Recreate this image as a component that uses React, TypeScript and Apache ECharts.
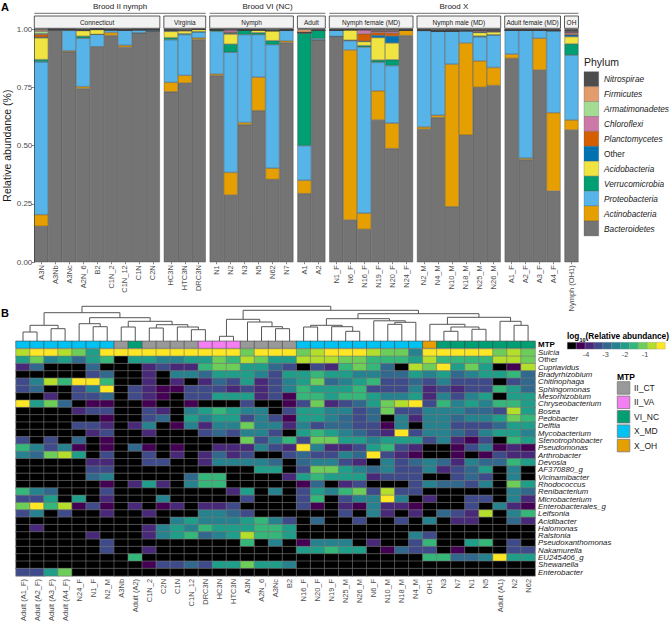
import React, { useEffect, useRef } from 'react';
import * as echarts from 'echarts';

// ---------------- Panel A data ----------------
const barSamples = ['A3N','A3Nb','A3Nc','A2N_6','B2','C1N_2','C1N_12','C1N','C2N','HC3N','HTC3N','DRC3N','N1','N2','N3','N5','N62','N7','A1','A2','N1_F','N6_F','N16_F','N19_F','N20_F','N24_F','N2_M','N4_M','N10_M','N18_M','N25_M','N26_M','A1_F','A2_F','A3_F','A4_F','Nymph (OH1)'];
const facetNames = ['Connecticut','Virginia','Nymph','Adult','Nymph female (MD)','Nymph male (MD)','Adult female (MD)','OH'];
const facetSizes = [9,3,6,2,6,6,4,1];
const broodNames = ['Brood II nymph','Brood VI (NC)','Brood X'];
const broodFacetCounts = [2,2,4];

const phyla = ['Bacteroidetes','Actinobacteria','Proteobacteria','Verrucomicrobia','Acidobacteria','Other','Planctomycetes','Chloroflexi','Armatimonadetes','Firmicutes','Nitrospirae'];
const phylumColors = ['#747474','#E69F00','#56B4E9','#009E73','#F0E442','#0072B2','#D55E00','#CC79A7','#A5DC93','#E39D6C','#4D4D4D'];

const bacteroidetes = [0.154,0.995,0.903,0.745,0.922,0.972,0.922,0.983,0.99,0.731,0.768,0.955,0.8,0.288,0.59,0.65,0.355,0.942,0.294,0.953,0.968,0.181,0.141,0.61,0.487,0.972,0.57,0.62,0.238,0.545,0.75,0.758,0.874,0.44,0.824,0.305,0.567];
const actinobacteria = [0.05,0,0.004,0.008,0.002,0.013,0.008,0,0,0.04,0.033,0.007,0.007,0.097,0.009,0.143,0.048,0.007,0.057,0,0,0.729,0.069,0.125,0.109,0.023,0.01,0.01,0.611,0.395,0.113,0.077,0.018,0.006,0.136,0.336,0.043];
const proteobacteria = [0.655,0.003,0.087,0.207,0.053,0.01,0.065,0.013,0.006,0.183,0.175,0.026,0.183,0.515,0.377,0.183,0.53,0.045,0.149,0.006,0.027,0.04,0.712,0.122,0.247,0,0.413,0.36,0.142,0.053,0.103,0.14,0.103,0.549,0.035,0.352,0.278];
const verrucomicrobia = [0.01,0,0.002,0.009,0,0,0,0,0,0.009,0.004,0,0.007,0.035,0.02,0.008,0.017,0.002,0.482,0.035,0,0.002,0.007,0.01,0.025,0,0.002,0,0,0,0.004,0,0,0,0,0,0.048];
const acidobacteria = [0.093,0,0,0.024,0.02,0,0,0,0,0.027,0.012,0.01,0,0.043,0,0.012,0.043,0,0,0,0,0.045,0.017,0.096,0.072,0,0,0,0,0,0.015,0.012,0,0,0,0,0.031];
const otherPhyla = [0.003,0,0.002,0.003,0.002,0.003,0.002,0.002,0.002,0.003,0.002,0,0,0.004,0,0,0,0,0.004,0,0,0,0.002,0.01,0.03,0,0,0.003,0,0,0.003,0.003,0,0,0,0,0.008];
const planctomycetes = [0.012,0,0,0,0,0,0,0,0,0.002,0,0,0,0.004,0,0,0,0,0,0,0,0,0.031,0.012,0.013,0,0,0,0,0,0,0,0,0,0,0,0.006];
const chloroflexi = [0.003,0,0,0,0,0,0,0,0,0,0,0,0,0.01,0,0,0,0,0,0,0,0,0.018,0.006,0.008,0,0,0,0.004,0,0.006,0.005,0,0,0,0.002,0.006];
const armatimonadetes = [0.01,0,0,0,0,0,0,0,0,0,0,0,0,0,0,0,0,0,0,0,0,0,0,0,0,0,0,0,0,0,0,0,0,0,0,0,0];
const firmicutes = [0.006,0,0,0,0,0,0,0,0,0,0.003,0,0,0.002,0,0,0,0,0.012,0.002,0,0,0,0.004,0.004,0,0,0,0,0,0,0,0,0,0,0,0.003];
const nitrospirae = [0.004,0.002,0.002,0.004,0.001,0.002,0.003,0.002,0.002,0.005,0.003,0.002,0.003,0.002,0.004,0.004,0.007,0.004,0.002,0.004,0.005,0.003,0.003,0.005,0.005,0.005,0.005,0.007,0.005,0.007,0.006,0.005,0.005,0.005,0.005,0.005,0.01];
const phylumValues = [bacteroidetes,actinobacteria,proteobacteria,verrucomicrobia,acidobacteria,otherPhyla,planctomycetes,chloroflexi,armatimonadetes,firmicutes,nitrospirae];
const yTicks = [0, 0.25, 0.5, 0.75, 1];

// ---------------- Panel B data ----------------
const heatSamples = ['Adult (A1_F)','Adult (A2_F)','Adult (A3_F)','Adult (A4_F)','N24_F','N1_F','N2_M','A3Nb','Adult (A2)','C1N_2','C2N','C1N','C1N_12','DRC3N','HC3N','HTC3N','A3N','A2N_6','A3Nc','B2','N16_F','N20_F','N19_F','N25_M','N26_M','N6_F','N10_M','N18_M','N4_M','OH1','N3','N7','N1','N5','Adult (A1)','N2','N62'];
const mtpGroups = ['II_CT','II_VA','VI_NC','X_MD','X_OH'];
const mtpColors = ['#999999','#F57FF2','#009E73','#00C2F3','#E69F00'];
const sampleMtp = [3,3,3,3,3,3,3,0,2,0,0,0,0,1,1,1,0,0,0,0,3,3,3,3,3,3,3,3,3,4,2,2,2,2,2,2,2];
const genera = ['Sulcia','Other','Cupriavidus','Bradyrhizobium','Chitinophaga','Sphingomonas','Mesorhizobium','Chryseobacterium','Bosea','Pedobacter','Delftia','Mycobacterium','Stenotrophobacter','Pseudomonas','Arthrobacter','Devosia','AF370880_g','Vicinamibacter','Rhodococcus','Renibacterium','Microbacterium','Enterobacterales_g','Leifsonia','Acidibacter','Halomonas','Ralstonia','Pseudoxanthomonas','Nakamurella','EU245406_g','Shewanella','Enterobacter'];
// colour class of log10(relative abundance): 0 = absent (black), 1 = lowest ... 10 = highest
const heatClassColors = ['#000000','#440154','#482878','#3E4A89','#31688E','#26828E','#1F9E89','#35B779','#6DCD59','#B4DE2C','#FDE725'];
const heatLegendTicks = ['-4','-3','-2','-1'];
const log10Class = [
  [9,10,10,9,8,6,10,10,10,10,10,10,10,10,10,10,8,10,10,10,8,9,10, 10,10,9,8,8,5,10,10,10,10,10,8,9,8],
  [6,8,5,6,4,6,7,0,6,6,5,5,6,6,8,7,9,8,6,6,9,9,9, 8,8,7,7,7,6,9,7,7,7,7,9,9,8],
  [2,4,0,0,0,4,0,0,0,2,3,2,2,7,8,8,6,6,4,3,0,3,2, 7,8,7,4,0,9,8,10,6,8,6,0,1,9],
  [0,0,0,0,0,3,4,0,0,2,0,5,5,4,6,6,6,5,3,6,6,7,6, 6,5,5,4,4,6,5,6,4,5,6,6,7,4],
  [3,5,9,7,10,10,7,0,0,2,0,2,0,2,4,3,6,2,3,5,6,8,4, 5,6,7,3,3,4,3,5,3,3,3,0,3,4],
  [3,4,0,0,3,5,10,0,3,2,1,1,3,3,3,2,3,2,3,5,7,6,6, 6,7,3,3,3,5,2,3,2,3,3,7,6,4],
  [0,0,2,0,3,3,4,0,3,2,1,0,3,3,6,6,6,2,3,1,7,7,6, 7,7,6,5,5,6,2,5,3,5,6,0,6,6],
  [10,6,8,4,0,1,1,0,0,1,0,0,1,0,0,0,3,0,0,1,3,8,2, 3,4,6,8,9,10,3,7,5,6,5,7,7,6],
  [0,0,0,0,2,3,3,0,0,3,2,0,5,6,7,6,5,5,0,3,6,6,5, 5,3,4,8,3,3,5,5,5,4,4,3,9,6],
  [0,0,0,0,0,0,1,0,0,3,4,0,6,5,6,6,3,5,3,1,6,6,5, 4,3,4,0,5,2,5,5,4,5,5,6,8,7],
  [0,0,0,0,3,3,2,0,2,5,0,1,5,2,5,5,8,5,5,2,5,3,4, 4,3,3,1,5,0,5,5,3,3,3,4,6,6],
  [0,0,0,0,0,2,3,0,0,2,0,0,0,3,4,3,5,5,3,0,6,7,6, 5,4,3,2,10,3,5,5,4,3,5,6,6,5],
  [3,0,3,0,4,0,1,0,0,0,0,0,0,0,0,0,8,3,5,7,3,8,8, 6,6,5,6,6,6,3,5,2,1,3,0,7,6],
  [7,5,3,5,1,0,1,0,4,1,0,1,0,0,2,2,2,5,3,2,10,5,2, 2,3,6,7,3,2,0,0,1,3,5,1,2,1],
  [5,4,8,9,6,0,3,0,0,3,0,2,0,2,4,2,3,0,0,3,4,3,3, 5,4,10,3,2,1,0,0,1,0,1,3,2,2],
  [0,0,0,0,0,2,2,0,0,3,3,0,0,2,5,5,5,5,4,0,4,5,5, 3,2,0,5,3,4,5,4,2,5,4,4,7,6],
  [0,0,0,0,0,3,3,0,0,0,0,0,0,0,0,0,0,6,6,0,3,8,8, 6,5,4,5,3,3,5,2,3,4,6,0,5,0],
  [0,0,0,0,0,4,5,0,0,0,0,0,4,7,7,0,0,0,0,2,6,7,6, 6,6,2,3,3,3,0,0,3,4,3,0,5,0],
  [0,0,0,0,0,0,1,0,2,6,2,0,5,7,7,0,0,0,0,0,1,4,0, 2,3,0,0,0,3,5,4,4,3,5,0,8,6],
  [7,5,4,0,0,0,3,0,0,0,0,0,0,0,0,2,6,0,5,0,3,6,5, 7,8,3,9,3,3,0,0,0,0,0,0,5,4],
  [3,3,6,0,6,0,2,0,0,0,5,0,0,0,0,0,3,0,0,0,3,7,0, 3,5,5,10,5,0,2,0,0,3,3,0,5,2],
  [8,10,7,9,1,3,1,0,2,0,1,2,0,2,2,3,0,0,0,0,3,1,0, 2,1,5,2,2,1,0,0,0,3,0,5,2,1],
  [3,5,0,3,0,0,2,0,0,2,0,0,0,5,5,4,3,0,0,0,0,0,0, 3,0,5,2,0,2,0,4,3,2,9,0,5,7],
  [0,0,0,0,0,0,0,0,0,0,0,5,6,5,5,5,6,7,5,3,0,4,0, 0,3,0,0,3,0,5,0,2,2,0,0,4,2],
  [0,2,0,0,0,0,0,0,0,2,5,6,5,7,6,6,6,7,7,6,0,0,0, 0,0,0,0,0,0,0,0,0,0,0,0,0,0],
  [0,0,0,0,0,2,0,0,0,2,5,6,7,4,5,6,9,7,7,6,0,0,0, 0,0,0,0,0,5,3,0,0,0,0,0,0,0],
  [0,0,0,0,0,0,3,0,0,0,0,0,0,0,0,0,7,0,5,0,1,5,5, 5,0,2,0,0,3,7,0,0,6,7,0,3,0],
  [0,0,0,0,0,0,3,0,0,2,0,0,0,0,0,0,0,0,0,0,6,6,7, 6,6,0,1,4,3,3,0,1,0,0,0,3,3],
  [0,0,0,0,0,0,0,0,7,0,0,0,0,0,0,0,0,0,0,0,0,0,0, 0,0,0,0,0,0,7,7,4,4,5,10,6,6],
  [0,0,0,0,0,0,0,0,0,1,3,3,4,3,6,6,8,6,6,5,0,0,0, 0,0,0,0,0,0,0,0,0,0,0,0,0,0],
  [3,3,6,8,0,0,0,0,0,0,0,0,0,0,0,0,0,0,0,0,0,0,0, 0,0,0,0,0,0,0,0,0,0,0,0,0,0],
];
// dendrogram merges: [left, right, height]; 'cK' = leaf column K, 'nK' = K-th merge (1-based)
const dendroMerges: [string, string, number][] = [
  ['c0','c1',9.3], ['c2','c3',12.6], ['n1','n2',16], ['c5','c6',14.6], ['c4','n4',17.6],
  ['c7','c8',14.3], ['c9','c10',13.3], ['c12','c13',11.6], ['c11','n8',14.3], ['n7','n9',16.6],
  ['n6','n10',20], ['n5','n11',23.6], ['n3','n12',28.6], ['c14','c15',5], ['c18','c19',12.6],
  ['c17','n15',14.6], ['c16','n16',19.3], ['n14','n17',22], ['c20','c21',14.3], ['c23','c24',10],
  ['c22','n20',14.6], ['n19','n21',16], ['c26','c27',17], ['n23','c28',19], ['c25','n24',20.5],
  ['n22','n25',22.6], ['c30','c31',10], ['c32','c33',12], ['n27','n28',14.3], ['c29','n29',17],
  ['c35','c36',16], ['c34','n31',20], ['n30','n32',24], ['n26','n33',27.6], ['n18','n34',31],
  ['n13','n35',35],
];

const FONT = 'Liberation Sans, Arial, sans-serif';

function buildOption() {
  const grids: any[] = [];
  const xAxes: any[] = [];
  const yAxes: any[] = [];
  const series: any[] = [];
  const g: any[] = [];

  // ---- Panel A ----
  const SLOT = 13.95, GAP = 4, LEFT = 34.3, TOP = 29, H = 233.2;
  let start = 0;
  let x = LEFT;
  const facetX: number[][] = [];
  facetSizes.forEach((n, f) => {
    const w = n * SLOT;
    facetX.push([x, x + w]);
    grids.push({ left: x, top: TOP, width: w, height: H });
    xAxes.push({
      type: 'category', gridIndex: f, data: barSamples.slice(start, start + n),
      axisLine: { show: false },
      axisTick: { show: true, length: 2, alignWithLabel: true, lineStyle: { color: '#333', width: 0.6 } },
      axisLabel: { rotate: 90, interval: 0, fontSize: 7.5, color: '#4d4d4d', margin: 3, fontFamily: FONT },
    });
    yAxes.push({
      type: 'value', gridIndex: f, min: 0, max: 1, interval: 0.25,
      splitLine: { show: false },
      axisLine: { show: f === 0, lineStyle: { color: '#000', width: 0.8 } },
      axisTick: { show: f === 0, length: 2.5, lineStyle: { color: '#333', width: 0.6 } },
      axisLabel: { show: f === 0, fontSize: 8, color: '#4d4d4d', margin: 2, fontFamily: FONT,
        formatter: (v: number) => (yTicks.includes(v) ? v.toFixed(2) : '') },
      name: f === 0 ? 'Relative abundance (%)' : '', nameLocation: 'middle', nameGap: 20,
      nameTextStyle: { fontSize: 10.5, color: '#1a1a1a', fontFamily: FONT },
    });
    phylumValues.forEach((arr, p) => {
      series.push({
        type: 'bar', name: phyla[p], xAxisIndex: f, yAxisIndex: f, stack: 's' + f,
        data: arr.slice(start, start + n), barWidth: '100%', silent: true,
        itemStyle: { color: phylumColors[p], borderColor: '#3f3f3f', borderWidth: 0.4 },
      });
    });
    g.push({ type: 'rect', shape: { x: x, y: 16, width: w, height: 12.3 }, style: { fill: '#f2f2f2', stroke: '#333', lineWidth: 0.8 } });
    g.push({ type: 'text', x: x + w / 2, y: 22.3, style: { text: facetNames[f], fontSize: 6.5, fill: '#1a1a1a', align: 'center', verticalAlign: 'middle', fontFamily: FONT } });
    start += n;
    x += w + GAP;
  });
  let fi = 0;
  broodNames.forEach((b, i) => {
    const x0 = facetX[fi][0];
    const x1 = facetX[fi + broodFacetCounts[i] - 1][1];
    fi += broodFacetCounts[i];
    g.push({ type: 'line', shape: { x1: x0, y1: 13.3, x2: x1, y2: 13.3 }, style: { stroke: '#8c8c8c', lineWidth: 1.3 } });
    g.push({ type: 'text', x: (x0 + x1) / 2, y: 6, style: { text: b, fontSize: 8, fill: '#1a1a1a', align: 'center', verticalAlign: 'middle', fontFamily: FONT } });
  });
  // Phylum legend
  g.push({ type: 'text', x: 584, y: 62, style: { text: 'Phylum', fontSize: 10.5, fill: '#1a1a1a', align: 'left', verticalAlign: 'middle', fontFamily: FONT } });
  const legendOrder = phyla.map((_, i) => phyla.length - 1 - i);
  legendOrder.forEach((p, i) => {
    const y = 71.7 + 14.93 * i;
    g.push({ type: 'rect', shape: { x: 584, y, width: 14.7, height: 14.93 }, style: { fill: phylumColors[p], stroke: '#555', lineWidth: 0.3 } });
    g.push({ type: 'text', x: 604, y: y + 7.5, style: { text: phyla[p], fontSize: 8.3, fontStyle: phyla[p] === 'Other' ? 'normal' : 'italic', fill: '#1a1a1a', align: 'left', verticalAlign: 'middle', fontFamily: FONT } });
  });
  g.push({ type: 'text', x: 1, y: 1, style: { text: 'A', fontSize: 11, fontWeight: 'bold', fill: '#000', align: 'left', verticalAlign: 'top', fontFamily: FONT } });
  g.push({ type: 'text', x: 1, y: 307, style: { text: 'B', fontSize: 11, fontWeight: 'bold', fill: '#000', align: 'left', verticalAlign: 'top', fontFamily: FONT } });

  // ---- Panel B ----
  const HL = 16, HW = 519.1;
  const nA = grids.length;
  // dendrogram grid
  grids.push({ left: HL, top: 306, width: HW, height: 35.3 });
  xAxes.push({ type: 'value', gridIndex: nA, min: 0, max: heatSamples.length, show: false });
  yAxes.push({ type: 'value', gridIndex: nA, min: 0, max: 35.3, show: false });
  const pos: Record<string, number> = {};
  const ht: Record<string, number> = {};
  heatSamples.forEach((_, c) => { pos['c' + c] = c + 0.5; ht['c' + c] = 0; });
  const dendroData: number[][] = [];
  dendroMerges.forEach(([a, b, h], i) => {
    const id = 'n' + (i + 1);
    dendroData.push([pos[a], ht[a], pos[b], ht[b], h]);
    pos[id] = (pos[a] + pos[b]) / 2;
    ht[id] = h;
  });
  series.push({
    type: 'custom', xAxisIndex: nA, yAxisIndex: nA, silent: true, data: dendroData,
    encode: { x: [0, 2], y: [1, 3, 4] },
    renderItem: (params: any, api: any) => {
      const p1 = api.coord([api.value(0), api.value(1)]);
      const p2 = api.coord([api.value(0), api.value(4)]);
      const p3 = api.coord([api.value(2), api.value(4)]);
      const p4 = api.coord([api.value(2), api.value(3)]);
      return { type: 'polyline', shape: { points: [p1, p2, p3, p4] }, style: { stroke: '#555', lineWidth: 1, fill: 'none' } };
    },
  });
  // MTP bar
  grids.push({ left: HL, top: 341.3, width: HW, height: 6.8 });
  xAxes.push({ type: 'category', gridIndex: nA + 1, data: heatSamples, show: false });
  yAxes.push({ type: 'category', gridIndex: nA + 1, data: ['MTP'], show: false });
  series.push({
    type: 'heatmap', xAxisIndex: nA + 1, yAxisIndex: nA + 1, silent: true,
    data: sampleMtp.map((m, c) => [c, 0, m]),
    itemStyle: { borderColor: '#444', borderWidth: 0.6 }, emphasis: { disabled: true },
  });
  // heatmap
  grids.push({ left: HL, top: 349, width: HW, height: 227.3 });
  xAxes.push({
    type: 'category', gridIndex: nA + 2, data: heatSamples,
    axisLine: { show: false }, axisTick: { show: false },
    axisLabel: { rotate: 90, interval: 0, fontSize: 7.5, color: '#4d4d4d', margin: 3, fontFamily: FONT },
  });
  yAxes.push({
    type: 'category', gridIndex: nA + 2, data: genera, inverse: true, position: 'right',
    axisLine: { show: false }, axisTick: { show: false },
    axisLabel: {
      interval: 0, margin: 3, fontSize: 7.8, lineHeight: 7.3, color: '#1a1a1a', fontFamily: FONT,
      formatter: (v: string) => (v === 'Other' ? '{n|' + v + '}' : '{i|' + v + '}'),
      rich: {
        n: { fontStyle: 'normal', fontSize: 7.8, lineHeight: 7.3, color: '#1a1a1a', fontFamily: FONT },
        i: { fontStyle: 'italic', fontSize: 7.8, lineHeight: 7.3, color: '#1a1a1a', fontFamily: FONT },
      },
    },
  });
  const heatData: number[][] = [];
  log10Class.forEach((row, r) => row.forEach((v, c) => heatData.push([c, r, v])));
  series.push({
    type: 'heatmap', xAxisIndex: nA + 2, yAxisIndex: nA + 2, silent: true, data: heatData,
    itemStyle: { borderColor: '#777', borderWidth: 0.6 }, emphasis: { disabled: true },
  });
  const mtpSeries = series.length - 2;
  const heatSeries = series.length - 1;

  g.push({ type: 'text', x: 538, y: 344.7, style: { text: 'MTP', fontSize: 8, fontWeight: 'bold', fill: '#000', align: 'left', verticalAlign: 'middle', fontFamily: FONT } });
  // heat legend
  g.push({ type: 'text', x: 567, y: 334, style: {
    text: '{a|log}{s|10}{a|(Relative abundance)}', align: 'left', verticalAlign: 'middle',
    rich: { a: { fontSize: 8.3, fontWeight: 'bold', fill: '#000', fontFamily: FONT, lineHeight: 11, verticalAlign: 'bottom' },
            s: { fontSize: 5.5, fontWeight: 'bold', fill: '#000', fontFamily: FONT, lineHeight: 11, verticalAlign: 'bottom', padding: [0, 0, -3, 0] } } } });
  heatClassColors.forEach((c, i) => {
    g.push({ type: 'rect', shape: { x: 567.3 + 8.9 * i, y: 342.3, width: 8.9, height: 6.8 }, style: { fill: c, stroke: '#888', lineWidth: 0.3 } });
  });
  const tickX = [586, 605.5, 625, 645];
  heatLegendTicks.forEach((t, i) => {
    g.push({ type: 'text', x: tickX[i], y: 354.5, style: { text: t, fontSize: 7.3, fill: '#4d4d4d', align: 'center', verticalAlign: 'middle', fontFamily: FONT } });
  });
  // MTP legend
  g.push({ type: 'text', x: 617, y: 376.5, style: { text: 'MTP', fontSize: 8.5, fontWeight: 'bold', fill: '#000', align: 'left', verticalAlign: 'middle', fontFamily: FONT } });
  mtpGroups.forEach((m, i) => {
    const y = 381.7 + 14.4 * i;
    g.push({ type: 'rect', shape: { x: 617.3, y, width: 12.5, height: 12.5 }, style: { fill: mtpColors[i], stroke: '#777', lineWidth: 0.8 } });
    g.push({ type: 'text', x: 634, y: y + 6.3, style: { text: m, fontSize: 8.5, fill: '#1a1a1a', align: 'left', verticalAlign: 'middle', fontFamily: FONT } });
  });

  return {
    animation: false,
    backgroundColor: '#ffffff',
    textStyle: { fontFamily: FONT },
    grid: grids,
    xAxis: xAxes,
    yAxis: yAxes,
    visualMap: [
      { type: 'piecewise', show: false, seriesIndex: heatSeries, dimension: 2,
        pieces: heatClassColors.map((c, i) => ({ value: i, color: c })) },
      { type: 'piecewise', show: false, seriesIndex: mtpSeries, dimension: 2,
        pieces: mtpColors.map((c, i) => ({ value: i, color: c })) },
    ],
    series,
    graphic: { elements: g },
  };
}

export default function App() {
  const ref = useRef<HTMLDivElement>(null);
  useEffect(() => {
    const chart = echarts.init(ref.current as HTMLDivElement, null, { renderer: 'svg' });
    chart.setOption(buildOption() as any);
    return () => chart.dispose();
  }, []);
  return <div ref={ref} style={{ position: 'absolute', left: 0, top: 0, width: 670, height: 624, background: '#fff' }} />;
}
